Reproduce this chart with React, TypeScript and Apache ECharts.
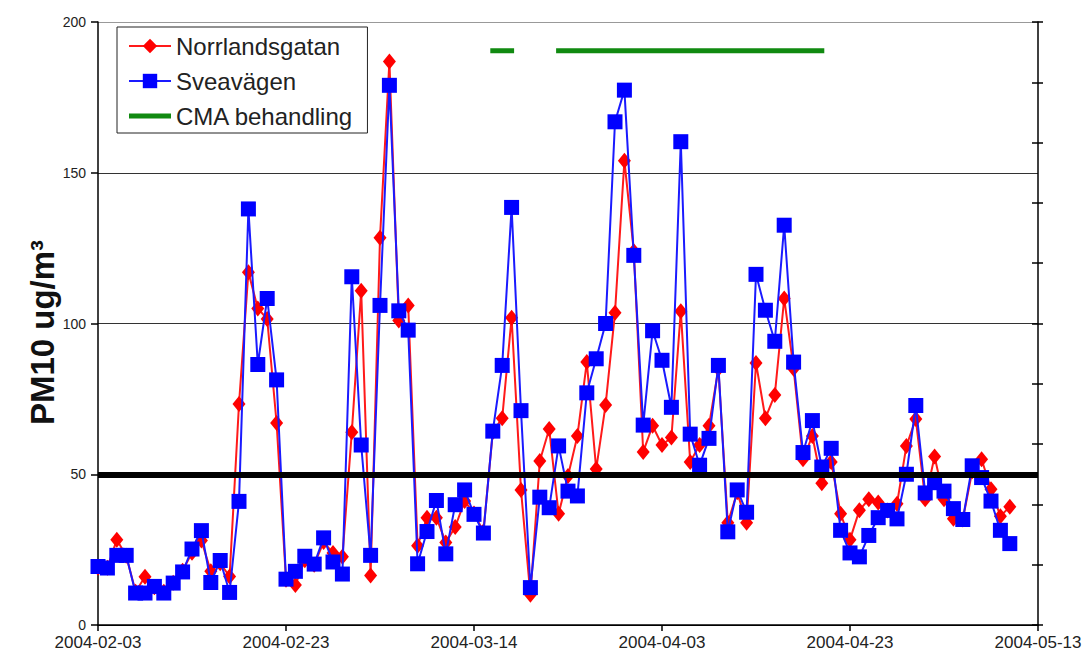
import React, { useEffect, useRef } from "react";
import * as echarts from "echarts";

// Daily PM10 values starting 2004-02-03 (index = day offset)
const START_DATE = "2004-02-03";
const X_TICK_LABELS = ["2004-02-03", "2004-02-23", "2004-03-14", "2004-04-03", "2004-04-23", "2004-05-13"];
const Y_TICKS = [0, 50, 100, 150, 200];

const NORRLANDSGATAN = [
  19, 19, 28.3, 23, 11, 16, 12.5, 11, 14, 18,
  24, 28, 17.8, 20.5, 16.1, 73.3, 117, 105, 101.5, 67,
  15, 13.3, 21.5, 20, 27.5, 23.9, 22.6, 63.9, 110.9, 16.4,
  128.4, 186.9, 101, 106, 26.3, 35.6, 35.6, 27.4, 32.5, 41.1,
  37, 31, 64, 68.6, 101.9, 44.8, 10, 54.4, 65, 36.9,
  49.4, 62.7, 87.2, 51.7, 73, 103.6, 154, 124, 57.4, 66.1,
  59.7, 62.2, 104.1, 54.1, 59.7, 66.1, 85, 33.9, 44, 33.9,
  86.9, 68.6, 76.3, 108.3, 85, 55, 62.7, 47, 54.1, 36.9,
  28.3, 38.1, 41.7, 40.6, 38, 40.2, 59.4, 68.3, 41.7, 55.9,
  41.7, 35.2, 35, 51, 55, 45, 36.1, 39.2,
];

const SVEAVAGEN = [
  19.4, 18.9, 23.1, 23.1, 10.6, 10.6, 12.8, 10.6, 13.9, 17.6,
  25.2, 31.3, 14.1, 21.4, 10.8, 41, 138, 86.4, 108.3, 81.3,
  15.2, 17.8, 22.8, 20.2, 28.9, 20.9, 16.9, 115.5, 59.7, 23.1,
  106, 179, 104.2, 97.8, 20.3, 31, 41.3, 23.6, 39.9, 44.8,
  36.7, 30.5, 64.3, 86.1, 138.5, 71.1, 12.4, 42.4, 38.9, 59.4,
  44.4, 42.8, 77, 88.3, 100, 166.9, 177.4, 122.6, 66.3, 97.6,
  87.8, 72.2, 160.3, 63.3, 53, 61.9, 86.1, 30.9, 44.8, 37.4,
  116.3, 104.4, 94.1, 132.6, 87.2, 57.2, 67.8, 52.4, 58.6, 31.4,
  23.9, 22.6, 29.7, 35.6, 38, 35.2, 50, 72.8, 43.8, 47.2,
  44.4, 38.6, 35, 52.8, 48.9, 41.1, 31.4, 27,
];

// CMA treatment periods (start, end) and the level at which they are drawn
const CMA_PERIODS = [
  ["2004-03-16", "2004-03-18"],
  ["2004-03-23", "2004-04-20"],
];
const CMA_LEVEL = 190.5;
const LIMIT_VALUE = 50;

const DAY_MS = 86400000;
const dayOffset = (d: string) =>
  Math.round((Date.parse(d + "T00:00:00Z") - Date.parse(START_DATE + "T00:00:00Z")) / DAY_MS);

const FONT = "'Liberation Sans', Arial, sans-serif";
const GREEN = "#118a11";

export default function App() {
  const ref = useRef<HTMLDivElement>(null);

  useEffect(() => {
    document.body.style.margin = "0";
    if (!ref.current) return;
    const chart = echarts.init(ref.current, undefined, { renderer: "svg" });

    const norrData = NORRLANDSGATAN.map((v, i) => [i, v]);
    const sveaData = SVEAVAGEN.map((v, i) => [i, v]);
    const cmaData: any[] = [];
    CMA_PERIODS.forEach(([s, e], idx) => {
      if (idx > 0) cmaData.push([dayOffset(s) - 1, "-"]);
      cmaData.push([dayOffset(s), CMA_LEVEL]);
      cmaData.push([dayOffset(e), CMA_LEVEL]);
    });

    chart.setOption({
      animation: false,
      backgroundColor: "#ffffff",
      grid: { left: 98, right: 49, top: 22, bottom: 35, containLabel: false },
      legend: {
        data: [
          "Norrlandsgatan",
          "Sveavägen",
          { name: "CMA behandling", icon: "path://M0,0 L42,0 L42,5 L0,5 Z" },
        ],
        orient: "vertical",
        left: 117,
        top: 27,
        padding: [7, 14, 5, 11],
        itemGap: 11,
        itemWidth: 42,
        itemHeight: 18,
        symbolKeepAspect: true,
        borderColor: "#222",
        borderWidth: 1,
        textStyle: { fontSize: 24, color: "#222", fontFamily: FONT },
      },
      xAxis: {
        type: "value",
        min: 0,
        max: 100,
        interval: 20,
        axisLine: { show: true, lineStyle: { color: "#000", width: 1.5 } },
        axisTick: { show: true, length: 6, lineStyle: { color: "#000", width: 1.5 } },
        axisLabel: {
          fontSize: 17,
          color: "#222",
          fontFamily: FONT,
          margin: 9,
          formatter: (v: number) => X_TICK_LABELS[Math.round(v / 20)] ?? "",
        },
        splitLine: { show: false },
      },
      yAxis: [
        {
          type: "value",
          min: Y_TICKS[0],
          max: Y_TICKS[Y_TICKS.length - 1],
          interval: 50,
          position: "left",
          name: "PM10 ug/m³",
          nameLocation: "middle",
          nameGap: 39,
          nameMoveOverlap: false,
          nameRotate: 90,
          nameTextStyle: {
            fontSize: 33,
            fontWeight: "bold",
            color: "#111",
            fontFamily: FONT,
            padding: [0, 18, 0, 0],
          },
          axisLine: { show: true, lineStyle: { color: "#000", width: 1.5 } },
          axisTick: { show: true, length: 7, lineStyle: { color: "#000", width: 1.5 } },
          axisLabel: { fontSize: 14, color: "#222", fontFamily: FONT, margin: 12 },
          splitLine: {
            show: true,
            lineStyle: { color: ["#000", "#000", "#333", "#333", "#999"], width: 1.2 },
          },
        },
        {
          type: "value",
          min: 0,
          max: 200,
          interval: 20,
          position: "right",
          axisLine: { show: true, lineStyle: { color: "#000", width: 1.5 } },
          axisTick: { show: true, inside: true, length: 6, lineStyle: { color: "#000", width: 1.5 } },
          axisLabel: { show: false },
          splitLine: { show: false },
        },
        {
          type: "value",
          min: 0,
          max: 200,
          interval: 20,
          position: "right",
          axisLine: { show: false },
          axisTick: { show: true, inside: false, length: 5, lineStyle: { color: "#000", width: 1.5 } },
          axisLabel: { show: false },
          splitLine: { show: false },
        },
      ],
      series: [
        {
          name: "CMA behandling",
          type: "line",
          data: cmaData,
          showSymbol: false,
          symbol: "none",
          connectNulls: false,
          color: GREEN,
          itemStyle: { color: GREEN },
          lineStyle: { color: GREEN, width: 5, cap: "square" },
          markLine: {
            silent: true,
            symbol: "none",
            label: { show: false },
            lineStyle: { color: "#000", width: 6, type: "solid" },
            data: [{ yAxis: LIMIT_VALUE }],
          },
          z: 1,
        },
        {
          name: "Norrlandsgatan",
          type: "line",
          data: norrData,
          symbol: "diamond",
          symbolSize: [13, 16],
          color: "#ff0000",
          itemStyle: { color: "#ff0000" },
          lineStyle: { color: "#ff1a1a", width: 2 },
          z: 2,
        },
        {
          name: "Sveavägen",
          type: "line",
          data: sveaData,
          symbol: "rect",
          symbolSize: 15,
          color: "#0000ff",
          itemStyle: { color: "#0000ff" },
          lineStyle: { color: "#1a1aff", width: 2 },
          z: 3,
        },
      ],
    });

    return () => chart.dispose();
  }, []);

  return <div ref={ref} style={{ width: 1087, height: 660 }} />;
}
